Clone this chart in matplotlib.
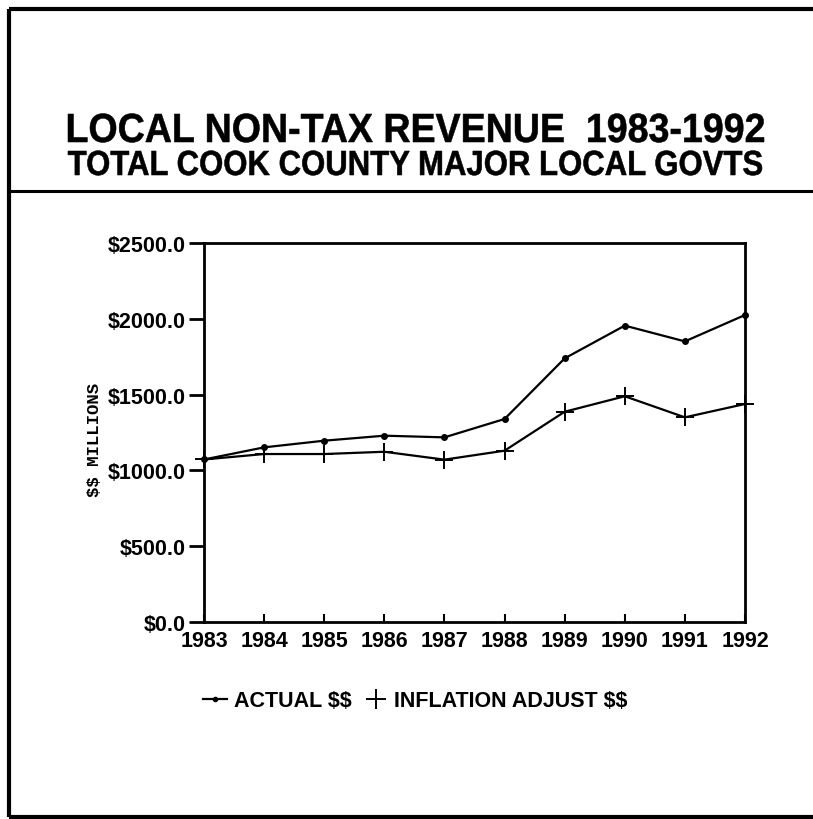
import matplotlib
matplotlib.use("Agg")
import matplotlib.pyplot as plt
from matplotlib.lines import Line2D
from matplotlib.textpath import TextPath
from matplotlib.patches import PathPatch
from matplotlib.font_manager import FontProperties
from matplotlib.transforms import Affine2D

years = [1983, 1984, 1985, 1986, 1987, 1988, 1989, 1990, 1991, 1992]
actual = [1072, 1152, 1196, 1229, 1218, 1339, 1739, 1955, 1851, 2025]
inflation_adj = [1072, 1108, 1108, 1123, 1071, 1130, 1387, 1489, 1350, 1438]
y_ticks = [0, 500, 1000, 1500, 2000, 2500]

title_1 = "LOCAL NON-TAX REVENUE  1983-1992"
title_2 = "TOTAL COOK COUNTY MAJOR LOCAL GOVTS"

plt.rcParams['font.family'] = ['Liberation Sans', 'DejaVu Sans']
plt.rcParams['text.parse_math'] = False  # dollar signs are literal

W, H = 813, 820
fig = plt.figure(figsize=(W / 100, H / 100), dpi=100)

def fx(px):
    return px / W

def fy(py):
    return 1 - py / H

def heading(text, left, right, baseline, cap):
    # bold sans squeezed to span left..right with the given cap height (pixels)
    fp = FontProperties(family='Liberation Sans', weight='bold')
    path = TextPath((0, 0), text, size=100, prop=fp)
    ext = path.get_extents()
    cap_path = TextPath((0, 0), 'H', size=100, prop=fp).get_extents()
    sx = (right - left) / ext.width
    sy = cap / cap_path.height
    tr = Affine2D().translate(-ext.x0, 0).scale(sx, sy).translate(left, H - baseline)
    fig.add_artist(PathPatch(tr.transform_path(path), facecolor='black',
                             edgecolor='black', lw=0.4, transform=None))

# page frame and rule under the heading
frame = dict(color='black', lw=3, transform=fig.transFigure, solid_capstyle='butt')
fig.add_artist(Line2D([fx(9), fx(9)], [fy(10), fy(818)], **frame))
fig.add_artist(Line2D([fx(9), fx(813)], [fy(10), fy(10)], **frame))
fig.add_artist(Line2D([fx(9), fx(813)], [fy(818), fy(818)], **frame))
fig.add_artist(Line2D([fx(9), fx(813)], [fy(192), fy(192)], lw=2.2, color='black',
                      transform=fig.transFigure))

heading(title_1, 68, 764, 143, 28)
heading(title_2, 68, 762, 176, 24)

ax = fig.add_axes([fx(204), fy(623), fx(745) - fx(204), fy(244) - fy(623)])
ax.plot(years, actual, color='black', lw=1.6, marker='o', markersize=4,
        clip_on=False)
ax.plot(years, inflation_adj, color='black', lw=1.6, marker='+', markersize=13,
        markeredgewidth=1.4, clip_on=False)

ax.set_xlim(1983, 1992)
ax.set_ylim(0, 2500)
ax.set_xticks(years)
ax.set_yticks(y_ticks)
ax.set_yticklabels(['${:.1f}'.format(v) for v in y_ticks],
                   fontweight='bold', fontsize=15.5)
ax.set_xticklabels([str(y) for y in years], fontweight='bold', fontsize=15.5)
ax.tick_params(axis='y', direction='out', length=11, width=2, pad=2)
ax.tick_params(axis='x', direction='in', length=6, width=1.5, pad=6)
for s in ax.spines.values():
    s.set_linewidth(2)

fig.text(fx(94), fy(440), '$$ MILLIONS', family='Liberation Mono',
         fontweight='bold', fontsize=12.5, rotation=90, ha='center', va='center')

handles = [
    Line2D([], [], color='black', lw=1.6, marker='o', markersize=3),
    Line2D([], [], color='black', lw=0, marker='+', markersize=15,
           markeredgewidth=1.4),
]
fig.legend(handles, ['ACTUAL $$', 'INFLATION ADJUST $$'], loc='center left',
           bbox_to_anchor=(fx(184), fy(702)), ncol=2, frameon=False,
           handlelength=1.1, handletextpad=0.3, columnspacing=0.6,
           prop={'weight': 'bold', 'size': 15.5})

fig.savefig('out.png', dpi=100)
